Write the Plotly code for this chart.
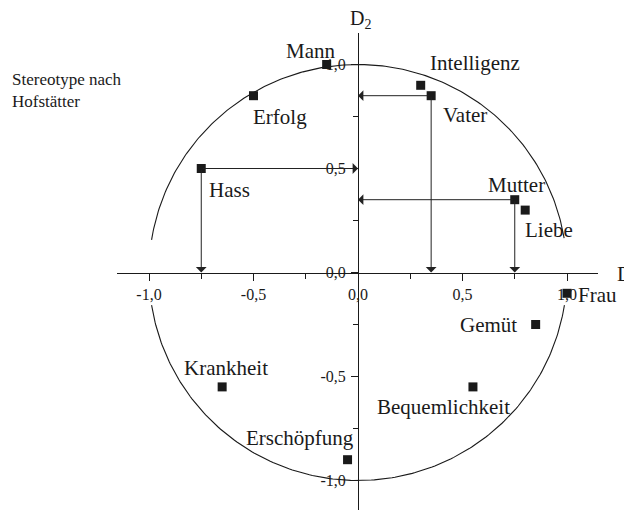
import numpy as np
import plotly.graph_objects as go

# Stereotype nach Hofstaetter - Koordinaten auf D1 / D2
terms = ["Mann", "Erfolg", "Hass", "Intelligenz", "Vater", "Mutter", "Liebe",
         "Frau", "Gemüt", "Krankheit", "Bequemlichkeit", "Erschöpfung"]
d1 = [-0.15, -0.50, -0.75, 0.30, 0.35, 0.75, 0.80, 1.00, 0.85, -0.65, 0.55, -0.05]
d2 = [1.00, 0.85, 0.50, 0.90, 0.85, 0.35, 0.30, -0.10, -0.25, -0.55, -0.55, -0.90]

# terms projected onto both axes (arrows)
projected = ["Hass", "Vater", "Mutter"]

tick_vals = [-1.0, -0.5, 0.0, 0.5, 1.0]
tick_text = ["-1,0", "-0,5", "0,0", "0,5", "1,0"]
minor_vals = [-0.75, -0.25, 0.25, 0.75]

# label offsets in pixels (right, up)
label_offsets = {
    "Mann": (-16, 14), "Erfolg": (26, -21), "Hass": (28, -21),
    "Intelligenz": (54, 22), "Vater": (34, -19), "Mutter": (2, 15),
    "Liebe": (24, -20), "Frau": (30, -2), "Gemüt": (-47, 0),
    "Krankheit": (4, 19), "Bequemlichkeit": (-29, -20), "Erschöpfung": (-48, 22),
}

FONT = "Liberation Serif, Times New Roman, serif"
INK = "#1a1a1a"

# the page body has an 8px margin, so the figure is a bit smaller than the window
PAD = 8
W, H = 632 - PAD, 513 - PAD


def px(x):  # window pixel -> paper x
    return (x - PAD) / W


def py(y):  # window pixel -> paper y
    return 1 - (y - PAD) / H


X0, Y0 = 358, 272.5      # window pixel of the origin
SX, SY = 209, 208        # pixels per unit
x_rng = [(117 - X0) / SX, (598 - X0) / SX]
y_rng = [(Y0 - 510) / SY, (Y0 - 33) / SY]

fig = go.Figure()

# unit circle, drawn in two arcs leaving a gap at the D1 axis
for a0, a1 in [(9.5, 171), (189, 351)]:
    t = np.radians(np.linspace(a0, a1, 200))
    fig.add_trace(go.Scatter(x=np.cos(t), y=np.sin(t), mode="lines",
                             line=dict(color=INK, width=1.1),
                             hoverinfo="skip", showlegend=False))

fig.add_trace(go.Scatter(x=d1, y=d2, mode="markers", text=terms,
                         marker=dict(symbol="square", size=9, color=INK),
                         showlegend=False))

for name, x, y in zip(terms, d1, d2):
    dx, dy = label_offsets[name]
    fig.add_annotation(x=x, y=y, text=name, showarrow=False,
                       xshift=dx, yshift=dy, xanchor="center", yanchor="middle",
                       font=dict(family=FONT, size=21, color=INK))

# projection arrows onto both axes
for name in projected:
    i = terms.index(name)
    x, y = d1[i], d2[i]
    for hx, hy in [(0, y), (x, 0)]:
        fig.add_annotation(x=hx, y=hy, ax=x, ay=y, axref="x", ayref="y",
                           text="", showarrow=True, arrowhead=1, arrowsize=1.8,
                           arrowwidth=1, arrowcolor="#222222", standoff=0)

fig.add_annotation(x=px(10), y=py(90), xref="paper", yref="paper",
                   text="Stereotype nach<br>Hofstätter", showarrow=False,
                   xanchor="left", yanchor="middle", align="left",
                   font=dict(family=FONT, size=17, color=INK))

fig.add_annotation(x=0, y=y_rng[1], text="D<sub>2</sub>", showarrow=False,
                   xanchor="center", yanchor="bottom", yshift=-1, xshift=2,
                   font=dict(family=FONT, size=20, color=INK))
fig.add_annotation(x=x_rng[1], y=0, text="D<sub>1</sub>", showarrow=False,
                   xanchor="left", yanchor="middle", xshift=17, yshift=-2,
                   font=dict(family=FONT, size=21, color=INK))

axis_common = dict(
    showline=True, linecolor=INK, linewidth=1, showgrid=False, zeroline=False,
    ticks="outside", ticklen=7, tickwidth=1, tickcolor=INK,
    tickvals=tick_vals, ticktext=tick_text, automargin=False,
    tickfont=dict(family=FONT, size=16, color=INK),
    minor=dict(tickvals=minor_vals, ticks="outside", ticklen=5, tickcolor=INK),
)

fig.update_layout(
    width=W, height=H, template="simple_white",
    margin=dict(l=0, r=0, t=0, b=0),
    plot_bgcolor="white", paper_bgcolor="white",
    xaxis=dict(axis_common, range=x_rng, domain=[px(117), px(598)],
               anchor="free", position=py(Y0)),
    yaxis=dict(axis_common, range=y_rng, domain=[py(510), py(33)],
               anchor="free", position=px(X0), ticklabelstandoff=2),
    showlegend=False,
)

fig.write_html("out.html")
